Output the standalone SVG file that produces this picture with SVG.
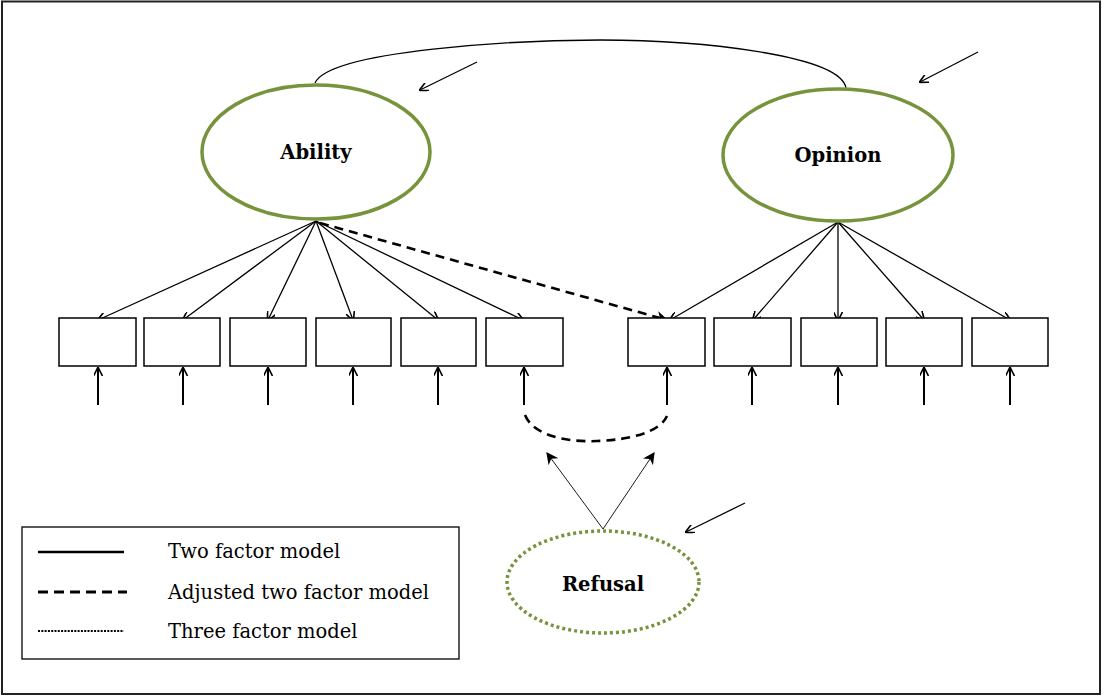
<svg xmlns="http://www.w3.org/2000/svg" width="1104" height="696" viewBox="0 0 1104 696">
<style>
.lat{fill:#fff;stroke:#77933c;stroke-width:3.5}
.ref{fill:#fff;stroke:#77933c;stroke-width:3.5;stroke-dasharray:3 3}
.box{fill:#fff;stroke:#000;stroke-width:1.5}
.ln{stroke:#000;stroke-width:1.3;fill:none}
.err{stroke:#000;stroke-width:2;fill:none}
.dsh{stroke:#000;stroke-width:2.6;fill:none;stroke-dasharray:9 6}
.thin{stroke:#000;stroke-width:0.9;fill:none}
.lbl{font-family:"DejaVu Serif","Liberation Serif",serif;font-weight:bold;font-size:19.5px;text-anchor:middle}
.leg{font-family:"DejaVu Serif","Liberation Serif",serif;font-size:19.5px}
</style>
<defs>
<marker id="ah" viewBox="0 0 10 10" refX="9" refY="5" markerWidth="9" markerHeight="9" markerUnits="userSpaceOnUse" orient="auto">
<path d="M0,0 L10,5 L0,10" fill="none" stroke="#000" stroke-width="1.8"/>
</marker>
<marker id="ahf" viewBox="0 0 10 10" refX="9" refY="5" markerWidth="12" markerHeight="12" markerUnits="userSpaceOnUse" orient="auto">
<path d="M0,0 L10,5 L0,10 L3,5 Z" fill="#000"/>
</marker>
</defs>
<rect x="2" y="1.5" width="1098" height="692.5" fill="#fff" stroke="#222" stroke-width="2"/>
<g id="connectors">
<path class="ln" d="M315,83 C330,50 520,40 600,40 C700,40 840,55 846,88"/>
<line class="ln" x1="477" y1="62" x2="420" y2="90" marker-end="url(#ah)"/>
<line class="ln" x1="978" y1="52" x2="920" y2="82" marker-end="url(#ah)"/>
<line class="ln" x1="745" y1="503" x2="686" y2="532" marker-end="url(#ah)"/>
<line class="ln" x1="316" y1="221" x2="98" y2="320" marker-end="url(#ah)"/>
<line class="ln" x1="316" y1="221" x2="183" y2="320" marker-end="url(#ah)"/>
<line class="ln" x1="316" y1="221" x2="268" y2="320" marker-end="url(#ah)"/>
<line class="ln" x1="316" y1="221" x2="353" y2="320" marker-end="url(#ah)"/>
<line class="ln" x1="316" y1="221" x2="438" y2="320" marker-end="url(#ah)"/>
<line class="ln" x1="316" y1="221" x2="523" y2="320" marker-end="url(#ah)" stroke-width="1.8"/>
<line class="dsh" x1="320" y1="223" x2="667" y2="320" marker-end="url(#ahf)"/>
<line class="ln" x1="838" y1="222" x2="670" y2="320" marker-end="url(#ah)"/>
<line class="ln" x1="838" y1="222" x2="753" y2="320" marker-end="url(#ah)"/>
<line class="ln" x1="838" y1="222" x2="838" y2="320" marker-end="url(#ah)"/>
<line class="ln" x1="838" y1="222" x2="924" y2="320" marker-end="url(#ah)"/>
<line class="ln" x1="838" y1="222" x2="1010" y2="320" marker-end="url(#ah)"/>
<g class="err">
<line x1="98" y1="405" x2="98" y2="368" marker-end="url(#ah)"/>
<line x1="183" y1="405" x2="183" y2="368" marker-end="url(#ah)"/>
<line x1="268" y1="405" x2="268" y2="368" marker-end="url(#ah)"/>
<line x1="353" y1="405" x2="353" y2="368" marker-end="url(#ah)"/>
<line x1="438" y1="405" x2="438" y2="368" marker-end="url(#ah)"/>
<line x1="524" y1="405" x2="524" y2="368" marker-end="url(#ah)"/>
<line x1="667" y1="405" x2="667" y2="368" marker-end="url(#ah)"/>
<line x1="752" y1="405" x2="752" y2="368" marker-end="url(#ah)"/>
<line x1="838" y1="405" x2="838" y2="368" marker-end="url(#ah)"/>
<line x1="924" y1="405" x2="924" y2="368" marker-end="url(#ah)"/>
<line x1="1010" y1="405" x2="1010" y2="368" marker-end="url(#ah)"/>
</g>
<path class="dsh" d="M525,415 C535,440 580,442 597,441 C630,440 660,432 667,416" stroke-dasharray="8 5"/>
<line class="thin" x1="603" y1="529" x2="547" y2="453" marker-end="url(#ahf)"/>
<line class="thin" x1="603" y1="529" x2="654" y2="453" marker-end="url(#ahf)"/>
</g>
<g id="ability"><ellipse class="lat" cx="316" cy="152" rx="114" ry="67"/><text class="lbl" x="316" y="159">Ability</text></g>
<g id="opinion"><ellipse class="lat" cx="838" cy="155" rx="115" ry="66"/><text class="lbl" x="838" y="162">Opinion</text></g>
<g id="refusal"><ellipse class="ref" cx="603" cy="582" rx="96" ry="51"/><text class="lbl" x="603" y="591">Refusal</text></g>
<g id="items">
<rect class="box" x="59" y="318" width="77" height="48"/>
<rect class="box" x="144" y="318" width="76" height="48"/>
<rect class="box" x="230" y="318" width="76" height="48"/>
<rect class="box" x="316" y="318" width="75" height="48"/>
<rect class="box" x="401" y="318" width="75" height="48"/>
<rect class="box" x="486" y="318" width="77" height="48"/>
<rect class="box" x="628" y="318" width="77" height="48"/>
<rect class="box" x="714" y="318" width="77" height="48"/>
<rect class="box" x="801" y="318" width="76" height="48"/>
<rect class="box" x="886" y="318" width="76" height="48"/>
<rect class="box" x="972" y="318" width="76" height="48"/>
</g>
<g id="legend">
<rect x="22" y="527" width="437" height="132" fill="#fff" stroke="#000" stroke-width="1.3"/>
<line x1="38" y1="552" x2="124" y2="552" stroke="#000" stroke-width="2.5"/>
<line x1="38" y1="592" x2="127" y2="592" stroke="#000" stroke-width="3" stroke-dasharray="10 6"/>
<line x1="38" y1="631" x2="124" y2="631" stroke="#000" stroke-width="2" stroke-dasharray="2 1.3"/>
<text class="leg" x="168" y="558">Two factor model</text>
<text class="leg" x="168" y="599">Adjusted two factor model</text>
<text class="leg" x="168" y="638">Three factor model</text>
</g>
</svg>
